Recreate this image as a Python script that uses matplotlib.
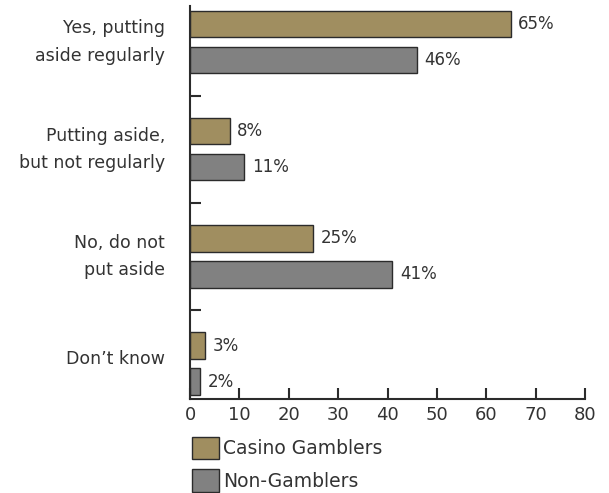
import matplotlib.pyplot as plt
import numpy as np

categories = [
    "Yes, putting\naside regularly",
    "Putting aside,\nbut not regularly",
    "No, do not\nput aside",
    "Don\u2019t know",
]
casino = [65, 8, 25, 3]
non_gamblers = [46, 11, 41, 2]
series_names = ["Casino Gamblers", "Non-Gamblers"]
x_ticks = [0, 10, 20, 30, 40, 50, 60, 70, 80]

plt.rcParams["font.family"] = ["DejaVu Sans"]
text_color = "#333333"
edge = "#2b2b2b"
colors = ["#a08e60", "#818181"]

fig = plt.figure(figsize=(6.09, 4.93), dpi=100)
ax = fig.add_axes([190 / 609, 1 - 399 / 493, 395 / 609, 393 / 493])

pos = np.arange(len(categories))
h = 0.245
offset = 0.168
ax.barh(pos - offset, casino, height=h, color=colors[0], edgecolor=edge,
        linewidth=1, label=series_names[0])
ax.barh(pos + offset, non_gamblers, height=h, color=colors[1], edgecolor=edge,
        linewidth=1, label=series_names[1])

for i in range(len(categories)):
    ax.text(casino[i] + 1.5, pos[i] - offset, f"{casino[i]}%", va="center",
            ha="left", fontsize=12, color=text_color)
    ax.text(non_gamblers[i] + 1.5, pos[i] + offset, f"{non_gamblers[i]}%", va="center",
            ha="left", fontsize=12, color=text_color)

ax.set_xlim(0, 80)
ax.set_ylim(3.33, -0.335)
ax.set_xticks(x_ticks)
ax.set_xticklabels([str(t) for t in x_ticks], fontsize=13, color=text_color)
ax.tick_params(axis="x", direction="in", length=8, width=1.5, color=edge, pad=5)

# category labels sit a touch above the group centre in the original
ax.set_yticks(pos - 0.06)
ax.set_yticklabels(categories, fontsize=12.5, color=text_color, linespacing=1.65,
                   ha="right")
ax.tick_params(axis="y", which="major", length=0, pad=18)
ax.set_yticks([0.5, 1.5, 2.5], minor=True)
ax.tick_params(axis="y", which="minor", direction="in", length=8, width=1.5, color=edge)

for side in ["top", "right"]:
    ax.spines[side].set_visible(False)
for side in ["left", "bottom"]:
    ax.spines[side].set_linewidth(1.5)
    ax.spines[side].set_color(edge)

handles, labels = ax.get_legend_handles_labels()
fig.legend(handles, labels, loc="upper left", bbox_to_anchor=(175 / 609, 1 - 420 / 493),
           frameon=False, fontsize=13.5, handlelength=1.45, handleheight=1.45,
           handletextpad=0.2, labelspacing=0.55, labelcolor=text_color)

fig.savefig("out.png", dpi=100)
